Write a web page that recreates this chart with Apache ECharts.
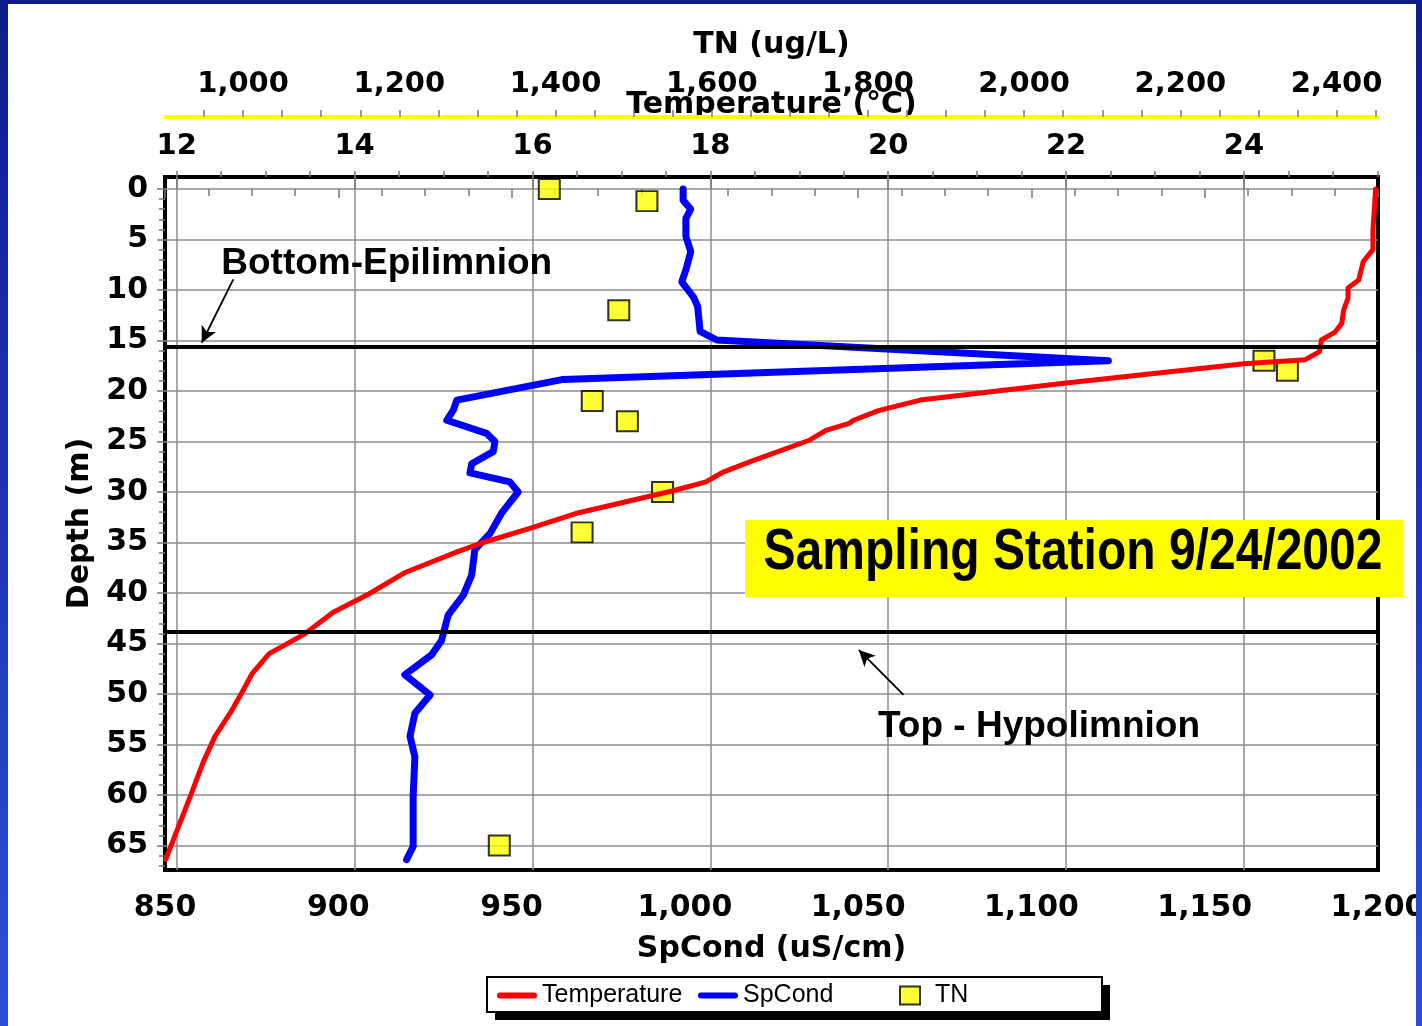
<!DOCTYPE html>
<html>
<head>
<meta charset="utf-8">
<script src="https://cdn.jsdelivr.net/npm/echarts@6/dist/echarts.min.js"></script>
<style>
html,body{margin:0;padding:0;background:#fff;overflow:hidden;}
#c{width:1422px;height:1026px;}
</style>
</head>
<body>
<div id="c"></div>
<script>
// ---------- data ----------
const depthLabels = [0, 5, 10, 15, 20, 25, 30, 35, 40, 45, 50, 55, 60, 65];
const tempLabels = [12, 14, 16, 18, 20, 22, 24];
const tnLabels = [1000, 1200, 1400, 1600, 1800, 2000, 2200, 2400];

const tempDepth = [0, 4.1, 6.0, 7.2, 9.0, 9.8, 10.8, 12.0, 13.3, 14.2, 14.95, 16.1, 16.9, 17.3, 19.2, 20.9, 21.95, 22.9, 23.2, 23.9, 24.85, 26.9, 28.0, 29.0, 29.9, 32.05, 33.6, 35.1, 35.9, 38.0, 40.1, 41.9, 44.1, 46.0, 47.95, 49.9, 51.9, 54.2, 56.7, 60.2, 66.4];
const tempValues = [25.48, 25.45, 25.45, 25.34, 25.29, 25.17, 25.17, 25.12, 25.10, 25.02, 24.87, 24.85, 24.69, 24.0, 22.0, 20.36, 19.89, 19.61, 19.56, 19.30, 19.12, 18.48, 18.15, 17.95, 17.57, 16.52, 15.97, 15.41, 15.16, 14.56, 14.16, 13.76, 13.43, 13.04, 12.85, 12.73, 12.60, 12.43, 12.30, 12.15, 11.875];

const spCondDepth = [0, 1.1, 2.0, 2.9, 4.7, 6.2, 8.0, 9.2, 10.7, 11.65, 14.1, 14.95, 17.0, 18.85, 20.9, 21.9, 22.9, 24.2, 25.0, 26.0, 27.2, 28.1, 29.0, 30.0, 32.1, 34.1, 35.7, 38.2, 40.2, 42.2, 44.7, 46.1, 48.1, 50.1, 51.9, 54.2, 56.2, 60.2, 65.1, 66.4];
const spCondValues = [999.5, 999.5, 1001.7, 1000.3, 1000.3, 1001.7, 1000.3, 999.1, 1002.5, 1003.7, 1004.4, 1009.2, 1122.2, 964.9, 934.2, 933.2, 931.3, 942.8, 945.2, 944.7, 938.5, 938.0, 949.5, 951.9, 947.1, 943.8, 939.4, 938.5, 936.1, 931.7, 929.8, 927.0, 919.2, 926.5, 922.1, 920.7, 922.1, 921.6, 921.6, 919.7];

const tnDepth = [0, 1.2, 12, 17, 18, 21, 23, 30, 34, 65];
const tnValues = [1392, 1517, 1481, 2307, 2337, 1447, 1492, 1537, 1434, 1328];

const layerLines = [15.6, 43.8]; // bottom of epilimnion, top of hypolimnion (m)

// ---------- build ----------
const tempData = tempDepth.map((d, i) => [tempValues[i], d]);
const spData = spCondDepth.map((d, i) => [spCondValues[i], d]);
const tnData = tnDepth.map((d, i) => [tnValues[i], d]);

const depthMinor = []; for (let v = 0; v <= 67; v++) depthMinor.push(v);
const tempMinor = []; for (let v = 12; v <= 25.5; v += 0.5) tempMinor.push(v);
const tnTicks = []; for (let v = 950; v <= 2450; v += 50) tnTicks.push(v);

const DEPTH_MIN = -1.19, DEPTH_MAX = 67.43;
const TEMP_MIN = 11.868, TEMP_MAX = 25.507;

const comma = v => Number(v).toLocaleString('en-US');
const labelFont = {fontFamily: 'DejaVu Sans', fontWeight: 'bold', fontSize: 29, color: '#000'};
const nameFont = {fontFamily: 'DejaVu Sans', fontWeight: 'bold', fontSize: 30, color: '#000'};
const tickStyle = {color: '#7a7a7a', width: 1.5};
const gridLine = {show: true, lineStyle: {color: '#8c8c8c', width: 1.5}};
const lineIcon = 'path://M3,0L37,0A3,3,0,0,1,37,6L3,6A3,3,0,0,1,3,0Z';

const blueGrad = {type: 'linear', x: 0, y: 0, x2: 0, y2: 1,
  colorStops: [{offset: 0, color: '#0e1b8c'}, {offset: 1, color: '#2b50d6'}]};

const legendBase = {
  top: 983, orient: 'horizontal', itemWidth: 40, itemHeight: 18, padding: 0,
  selectedMode: false, z: 5,
  textStyle: {fontFamily: 'Liberation Sans', fontSize: 25, color: '#000'}
};
const legendItems = [
  {name: 'Temperature', icon: lineIcon, itemStyle: {color: '#ff0000', borderWidth: 0}},
  {name: 'SpCond', icon: lineIcon, itemStyle: {color: '#0000ff', borderWidth: 0}},
  {name: 'TN', icon: 'path://M0,0L20,0L20,18L0,18Z',
   itemStyle: {color: '#ffff00', borderColor: '#000', borderWidth: 2}}
];
const legendLefts = [497, 698, 899];

const chart = echarts.init(document.getElementById('c'), null, {renderer: 'canvas'});
chart.setOption({
  animation: false,
  backgroundColor: '#fff',
  grid: {left: 165, right: 44, top: 177, bottom: 156, show: true, outerBoundsMode: 'none',
         containLabel: false, borderColor: '#000', borderWidth: 4, backgroundColor: '#fff'},
  xAxis: [
    { // 0: SpCond bottom
      type: 'value', position: 'bottom', min: 850, max: 1200, interval: 50,
      name: 'SpCond (uS/cm)', nameLocation: 'middle', nameGap: 64, nameTextStyle: nameFont,
      axisLine: {show: false},
      axisTick: {show: true, length: 9, lineStyle: tickStyle},
      minorTick: {show: true, splitNumber: 4, length: 7, lineStyle: tickStyle},
      axisLabel: Object.assign({}, labelFont, {margin: 23, fontSize: 30, formatter: comma}),
      splitLine: {show: false}
    },
    { // 1: Temperature top
      type: 'value', position: 'top', min: TEMP_MIN, max: TEMP_MAX,
      name: 'Temperature (°C)', nameLocation: 'middle', nameGap: 57, nameTextStyle: nameFont,
      axisLine: {show: false},
      axisTick: {show: true, customValues: tempLabels, length: 11, lineStyle: tickStyle},
      axisLabel: Object.assign({margin: 16, customValues: tempLabels}, labelFont),
      splitLine: gridLine
    },
    { // 2: Temperature minor ticks
      type: 'value', position: 'top', min: TEMP_MIN, max: TEMP_MAX,
      axisLine: {show: false}, axisLabel: {show: false}, splitLine: {show: false},
      axisTick: {show: true, customValues: tempMinor, length: 6, lineStyle: tickStyle}
    },
    { // 3: TN top (offset)
      type: 'value', position: 'top', offset: 60, min: 900, max: 2453,
      name: 'TN (ug/L)', nameLocation: 'middle', nameGap: 57, nameTextStyle: nameFont,
      axisLine: {show: true, lineStyle: {color: '#ffff00', width: 4}},
      axisTick: {show: true, customValues: tnTicks, length: 7, lineStyle: tickStyle},
      axisLabel: Object.assign({margin: 18, customValues: tnLabels, formatter: comma}, labelFont),
      splitLine: {show: false}
    }
  ],
  yAxis: [
    {
      type: 'value', inverse: true, position: 'left', min: DEPTH_MIN, max: DEPTH_MAX,
      name: 'Depth (m)', nameLocation: 'middle', nameGap: 68, nameTextStyle: nameFont,
      axisLine: {show: false},
      axisTick: {show: true, customValues: depthLabels, length: 8, lineStyle: tickStyle},
      axisLabel: Object.assign({}, labelFont, {margin: 17, fontSize: 30, padding: [6, 0, 0, 0], customValues: depthLabels}),
      splitLine: gridLine
    },
    {
      type: 'value', inverse: true, position: 'left', min: DEPTH_MIN, max: DEPTH_MAX,
      axisLine: {show: false}, axisLabel: {show: false}, splitLine: {show: false},
      axisTick: {show: true, customValues: depthMinor, length: 6, lineStyle: tickStyle}
    }
  ],
  legend: legendItems.map((it, i) => Object.assign({}, legendBase, {left: legendLefts[i], data: [it]})),
  series: [
    {
      name: 'TN', type: 'scatter', xAxisIndex: 3, yAxisIndex: 0, data: tnData,
      symbol: 'rect', symbolSize: [21, 20], z: 2,
      itemStyle: {color: '#ffff00', borderColor: '#000', borderWidth: 2}
    },
    {
      name: 'SpCond', type: 'line', xAxisIndex: 0, yAxisIndex: 0, data: spData,
      symbol: 'none', showSymbol: false, z: 3,
      itemStyle: {color: '#0000ff'},
      lineStyle: {color: '#0000ff', width: 7, cap: 'round', join: 'round'}
    },
    {
      name: 'Temperature', type: 'line', xAxisIndex: 1, yAxisIndex: 0, data: tempData,
      symbol: 'none', showSymbol: false, z: 4,
      itemStyle: {color: '#ff0000'},
      lineStyle: {color: '#ff0000', width: 5, cap: 'round', join: 'round'},
      markLine: {
        silent: true, symbol: 'none', animation: false,
        label: {show: false},
        lineStyle: {color: '#000', width: 4, type: 'solid'},
        emphasis: {disabled: true},
        data: [
          {yAxis: layerLines[0]},
          {yAxis: layerLines[1]},
          [
            {coord: [12.636, 8.94], symbol: 'none', lineStyle: {width: 1.8, color: '#000', type: 'solid'}},
            {coord: [12.281, 15.22], symbol: 'arrow', symbolSize: [12, 16], lineStyle: {width: 1.8, color: '#000', type: 'solid'}}
          ],
          [
            {coord: [20.172, 50.1], symbol: 'none', lineStyle: {width: 1.8, color: '#000', type: 'solid'}},
            {coord: [19.669, 45.64], symbol: 'arrow', symbolSize: [12, 16], lineStyle: {width: 1.8, color: '#000', type: 'solid'}}
          ]
        ]
      }
    }
  ],
  graphic: [
    {type: 'text', x: 386.7, y: 264, z: 50,
     style: {text: 'Bottom-Epilimnion', font: 'bold 37px "Liberation Sans", Arial, sans-serif', fill: '#000', align: 'center', verticalAlign: 'middle'}},
    {type: 'text', x: 1039, y: 727, z: 50,
     style: {text: 'Top - Hypolimnion', font: 'bold 37px "Liberation Sans", Arial, sans-serif', fill: '#000', align: 'center', verticalAlign: 'middle'}},
    {type: 'rect', z: 50, shape: {x: 745, y: 520, width: 658, height: 77}, style: {fill: '#ffff00'}},
    {type: 'text', x: 1073, y: 553.5, scaleY: 1.18, z: 51,
     style: {text: 'Sampling Station 9/24/2002', font: 'bold 48px "Liberation Sans", Arial, sans-serif',
             fill: '#000', align: 'center', verticalAlign: 'middle',
             shadowColor: 'rgba(255,255,255,0.95)', shadowOffsetX: 2, shadowOffsetY: 2, shadowBlur: 0}},
    // legend frame: hard black shadow, then white box with black border
    {type: 'rect', z: 0, shape: {x: 495, y: 985, width: 615, height: 35}, style: {fill: '#000'}},
    {type: 'rect', z: 1, shape: {x: 487, y: 977, width: 615, height: 35},
     style: {fill: '#fff', stroke: '#000', lineWidth: 2}},
    {type: 'rect', z: 100, shape: {x: 0, y: 0, width: 8, height: 1026}, style: {fill: blueGrad}},
    {type: 'rect', z: 100, shape: {x: 1416, y: 0, width: 6, height: 1026}, style: {fill: blueGrad}},
    {type: 'rect', z: 100, shape: {x: 0, y: 0, width: 1422, height: 4}, style: {fill: '#0e1b8c'}}
  ]
});
</script>
</body>
</html>
